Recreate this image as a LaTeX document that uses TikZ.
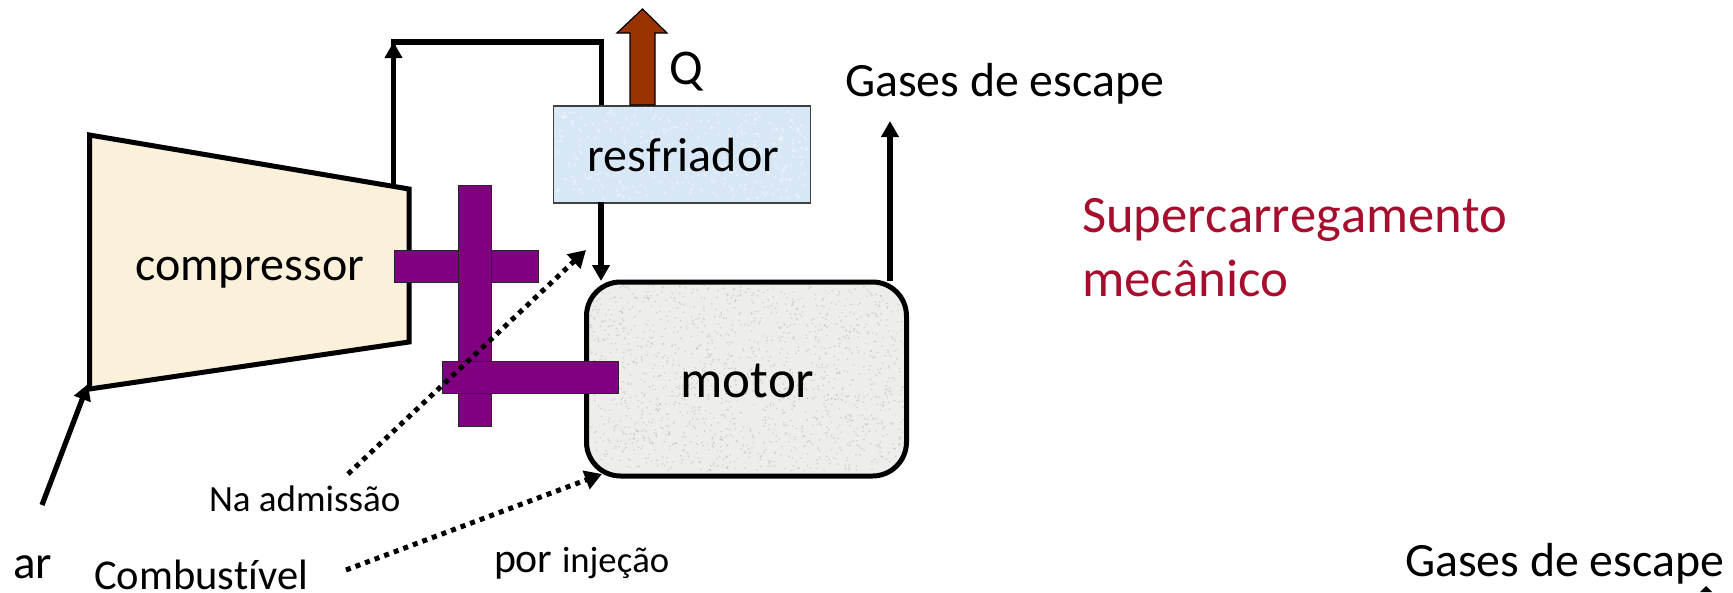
\documentclass[tikz,border=0pt]{standalone}
\usepackage{fontspec}
\setmainfont{Carlito}[Ligatures=NoCommon,Kerning=Off]
\usetikzlibrary{arrows.meta}
\definecolor{purp}{HTML}{800080}
\definecolor{brn}{HTML}{993300}
\definecolor{red2}{HTML}{A50F2D}
\definecolor{compfill}{HTML}{FBF0DA}
\definecolor{coolfill}{HTML}{D8E7F6}
\definecolor{motfill}{HTML}{EDEDEA}
\newcommand{\fs}[1]{\fontsize{#1}{#1}\selectfont}
\tikzset{
  x=1pt,y=-1pt,
  lbl/.style={inner sep=0pt,outer sep=0pt,anchor=base west,text=black},
  pipe/.style={line width=5.2pt,draw=black,line join=miter},
  flow/.style={pipe,-{Triangle[length=16pt,width=17pt]}},
  dots/.style={line width=5pt,draw=black,dash pattern=on 5pt off 5.2pt,-{Triangle[length=17pt,width=19pt]}},
  shaft/.style={fill=purp,draw=black!85,line width=1.4pt},
  hull/.style={line width=5pt,draw=black,line join=miter},
}
\begin{document}
\begin{tikzpicture}
\useasboundingbox (0,0) rectangle (1733,592);
% free ends and corners
\coordinate (c1) at (89.5,135);
\coordinate (c2) at (409,189);
\coordinate (c3) at (409,342);
\coordinate (c4) at (89.5,389);
\coordinate (compTop) at (393.5,186);
\coordinate (topL) at (393.5,42);
\coordinate (topR) at (601.5,42);
\coordinate (coolIn) at (601.5,105);
\coordinate (coolOut) at (601,202);
\coordinate (motIn) at (601,281);
\coordinate (motOut) at (890,281);
\coordinate (gasEnd) at (890,121);
\coordinate (airStart) at (42,505);
\coordinate (airEnd) at (88,384);
\coordinate (admStart) at (348,474);
\coordinate (admEnd) at (586,250);
\coordinate (injStart) at (346,570);
\coordinate (injEnd) at (602,474);

\draw[hull,fill=compfill] (c1)--(c2)--(c3)--(c4)--cycle;
\node[lbl] (compressor) at (135,280) {\fs{48}compressor};

\node[draw=black!75,line width=1.5pt,fill=coolfill,minimum width=257pt,minimum height=97pt,inner sep=0pt,anchor=north west] (cooler) at (552.5,105) {};
\pgfmathsetseed{4711}
\foreach \i in {1,...,350}{
  \pgfmathsetmacro{\px}{556+rnd*251}
  \pgfmathsetmacro{\py}{108+rnd*91}
  \fill[white,opacity=0.35] (\px,\py) circle[radius=1.6pt];
}
\node[lbl] (coolerText) at (587,171) {\fs{48}resfriador};

\node[draw=black,line width=5pt,fill=motfill,rounded corners=34pt,minimum width=320pt,minimum height=194pt,inner sep=0pt,anchor=north west] (motor) at (584,279.5) {};
\begin{scope}
\clip[rounded corners=32pt] (589,284.5) rectangle (903.5,471);
\foreach \i in {1,...,1500}{
  \pgfmathsetmacro{\px}{589+rnd*315}
  \pgfmathsetmacro{\py}{284+rnd*187}
  \fill[black!30,opacity=0.5] (\px,\py) circle[radius=0.9pt];
}
\end{scope}
\node[lbl] (motorText) at (680,397) {\fs{53}motor};

\draw[pipe] (compTop)--(topL)--(topR)--(coolIn);
\draw[flow] (compTop)--(topL);
\draw[flow] (coolOut)--(motIn);
\draw[flow] (motOut)--(gasEnd);
\draw[flow] (airStart)--(airEnd);

\draw[fill=brn,draw=black,line width=1.2pt] (630,105)--(630,33)--(617,33)--(642.5,9)--(667,33)--(655,33)--(655,105)--cycle;
\node[lbl] (qText) at (669,84) {\fs{50}Q};
\node[lbl] (gases) at (845,96) {\fs{47.8}Gases de escape};

\node[shaft,minimum width=144.5pt,minimum height=32pt,inner sep=0pt,anchor=north west] (barTop) at (393.5,250) {};
\node[shaft,minimum width=33.5pt,minimum height=240.5pt,inner sep=0pt,anchor=north west] (barV) at (457.5,185) {};
\node[shaft,minimum width=176pt,minimum height=32pt,inner sep=0pt,anchor=north west] (barLow) at (442,361) {};

\draw[dots] (admStart)--(admEnd);
\draw[dots] (injStart)--(injEnd);

\node[lbl,text=red2] (super) at (1082,232) {\fs{52.6}Supercarregamento};
\node[lbl,text=red2] (mec) at (1082,296) {\fs{53}mecânico};
\node[lbl] (adm) at (209,511) {\fs{37}Na admissão};
\node[lbl] (ar) at (13,578) {\fs{47}ar};
\node[lbl] (comb) at (94,589) {\fs{42.5}Combustível};
\node[lbl] (inj) at (494,572) {\fs{41.8}por {\fs{36.7}injeção}};
\node[lbl] (gases2) at (1405,576) {\fs{47.8}Gases de escape};
\fill (1700,592)--(1706,586)--(1712,592)--cycle;
\end{tikzpicture}
\end{document}
